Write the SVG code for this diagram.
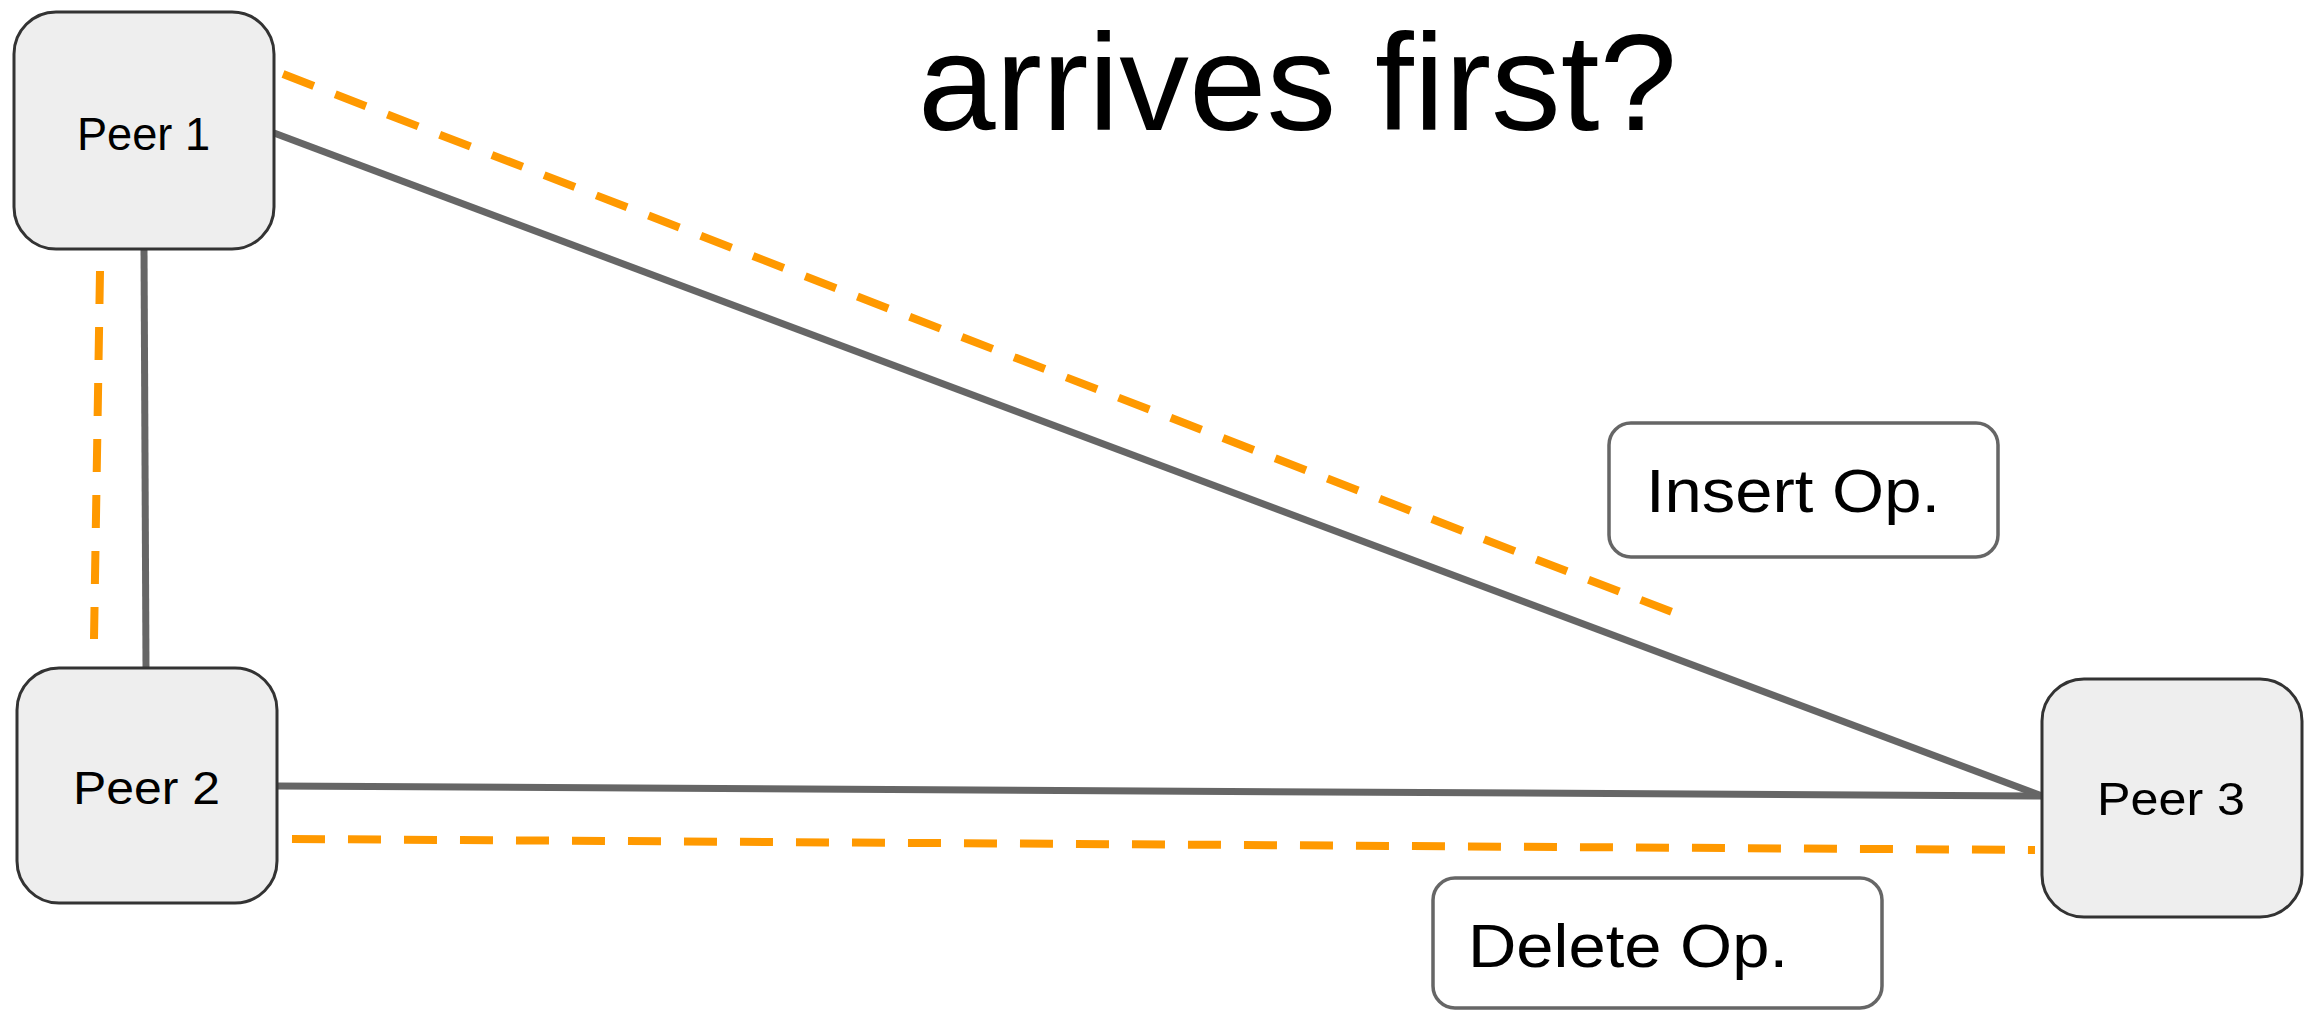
<svg xmlns="http://www.w3.org/2000/svg" width="2305" height="1011" viewBox="0 0 2305 1011">
<style>
.peer{fill:#eeeeee;stroke:#333333;stroke-width:3}
.lbl{fill:#ffffff;stroke:#666666;stroke-width:3.5}
.t{font-family:"Liberation Sans",Arial,sans-serif;fill:#000000}
.solid{stroke:#666666;stroke-width:7;fill:none}
.dash{stroke:#ff9900;stroke-width:8;fill:none;stroke-dasharray:33 23}
</style>
<rect width="2305" height="1011" fill="#ffffff"/>
<g id="connectors">
<line class="solid" x1="144" y1="249" x2="146" y2="668"/>
<line class="solid" x1="274" y1="133" x2="2042" y2="796"/>
<line class="solid" x1="277" y1="786" x2="2042" y2="796"/>
<line class="dash" x1="100" y1="271" x2="94" y2="639"/>
<line class="dash" x1="283" y1="74" x2="1672" y2="612"/>
<line class="dash" x1="292" y1="839" x2="2035" y2="850"/>
</g>
<g id="title">
<text class="t" x="918" y="130" font-size="137" textLength="759" lengthAdjust="spacingAndGlyphs">arrives first?</text>
</g>
<g id="peer1">
<rect class="peer" x="14" y="12" width="260" height="237" rx="42"/>
<text class="t" x="77" y="150" font-size="46" textLength="133" lengthAdjust="spacingAndGlyphs">Peer 1</text>
</g>
<g id="peer2">
<rect class="peer" x="17" y="668" width="260" height="235" rx="42"/>
<text class="t" x="73" y="804" font-size="46" textLength="147" lengthAdjust="spacingAndGlyphs">Peer 2</text>
</g>
<g id="peer3">
<rect class="peer" x="2042" y="679" width="260" height="238" rx="42"/>
<text class="t" x="2097" y="815" font-size="46" textLength="148" lengthAdjust="spacingAndGlyphs">Peer 3</text>
</g>
<g id="insert-op">
<rect class="lbl" x="1609" y="423" width="389" height="134" rx="22"/>
<text class="t" x="1646" y="512" font-size="62" textLength="294" lengthAdjust="spacingAndGlyphs">Insert Op.</text>
</g>
<g id="delete-op">
<rect class="lbl" x="1433" y="878" width="449" height="130" rx="22"/>
<text class="t" x="1468" y="967" font-size="62" textLength="320" lengthAdjust="spacingAndGlyphs">Delete Op.</text>
</g>
</svg>
